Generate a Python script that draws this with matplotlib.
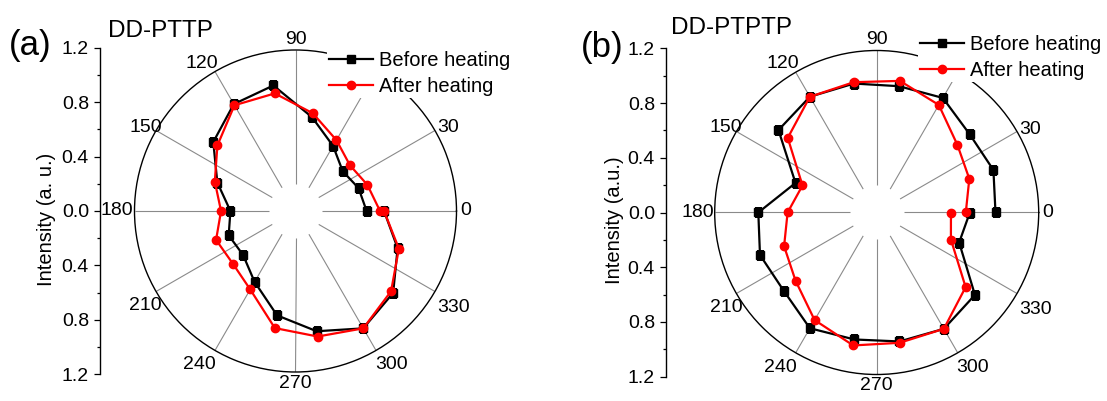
import numpy as np
import matplotlib
matplotlib.use("Agg")
import matplotlib.pyplot as plt
from matplotlib.ticker import MultipleLocator, FuncFormatter
from matplotlib.transforms import offset_copy

plt.rcParams['font.family'] = ['Liberation Sans', 'DejaVu Sans']

# Polarization angle (deg) and normalized intensity
angles_deg = [0, 20, 40, 60, 80, 100, 120, 140, 160, 180,
              200, 220, 240, 260, 280, 300, 320, 340, 360]

pttp_before = [0.53, 0.50, 0.46, 0.56, 0.71, 0.95, 0.92, 0.80, 0.62, 0.485,
               0.53, 0.51, 0.61, 0.79, 0.91, 1.01, 0.95, 0.81, 0.66]
pttp_after = [0.63, 0.57, 0.53, 0.61, 0.74, 0.89, 0.91, 0.76, 0.64, 0.555,
              0.63, 0.61, 0.675, 0.886, 0.95, 1.01, 0.93, 0.82, 0.66]

ptptp_before = [0.88, 0.92, 0.90, 0.98, 0.95, 0.97, 0.99, 0.95, 0.64, 0.877,
                0.92, 0.90, 0.99, 0.955, 0.97, 0.995, 0.95, 0.65, 0.69]
ptptp_after = [0.66, 0.73, 0.78, 0.92, 0.99, 0.98, 0.99, 0.86, 0.585, 0.66,
               0.73, 0.785, 0.92, 1.00, 0.98, 0.995, 0.86, 0.585, 0.55]

# angular labels (the 60-degree one sits under the legend)
theta_label_deg = [0, 30, 90, 120, 150, 180, 210, 240, 270, 300, 330]
theta_labels = ['0', '30', '90', '120', '150', '180',
                '210', '240', '270', '300', '330']

# anchor corner and pixel offset of each angular label around the rim
label_place = {
    0: ('left', 'center', 4, 0),
    30: ('left', 'baseline', 2, -2),
    90: ('center', 'baseline', 0, 6),
    120: ('right', 'baseline', 3, 4),
    150: ('right', 'baseline', 6, -1),
    180: ('right', 'center', -1, 0),
    210: ('right', 'top', 6, -5),
    240: ('right', 'top', 1, -6),
    270: ('center', 'top', 0, -3),
    300: ('left', 'top', -1, -6),
    330: ('left', 'top', 2, -7),
}

W, H = 1107, 401
fig = plt.figure(figsize=(W / 100, H / 100), dpi=100)


def fx(x):
    return x / W


def fy(y):
    return 1 - y / H


def panel(cx, cy, R, axis_x, letter, title, ylabel, ylabel_x, letter_pos,
          title_pos, legend_pos, before, after):
    # polar plot
    ax = fig.add_axes([fx(cx - R), fy(cy + R), 2 * R / W, 2 * R / H],
                      projection='polar')
    ax.set_ylim(0, 1.2)
    ax.set_yticks([])
    ax.grid(False)
    th = np.deg2rad(np.arange(0, 360, 30))
    ax.vlines(th, 0.2, 1.2, colors='#8a8a8a', lw=0.8, zorder=1)
    ax.set_xticks(th)
    ax.set_xticklabels([''] * len(th))
    ax.set_xticks(np.deg2rad(np.arange(15, 360, 30)), minor=True)
    ax.tick_params(axis='x', which='major', direction='in', length=4,
                   width=0.9)
    ax.tick_params(axis='x', which='minor', direction='in', length=3,
                   width=0.9)
    ax.spines['polar'].set_linewidth(1.0)
    for deg, lab in zip(theta_label_deg, theta_labels):
        ha, va, dx, dy = label_place[deg]
        tr = offset_copy(ax.transData, fig=fig, x=dx, y=dy, units='dots')
        ax.text(np.deg2rad(deg), 1.2, lab, transform=tr, ha=ha, va=va,
                fontsize=14, clip_on=False)

    t = np.deg2rad(angles_deg)
    ax.plot(t, before, color='black', lw=1.6, marker='s', ms=5.5,
            label='Before heating', zorder=3)
    ax.plot(t, after, color='#ff0000', lw=1.6, marker='o', ms=6,
            label='After heating', zorder=4)
    leg = ax.legend(loc='upper left', bbox_to_anchor=(fx(legend_pos[0]), fy(legend_pos[1])),
                    bbox_transform=fig.transFigure, fontsize=14.5, frameon=True,
                    handlelength=2.2, handletextpad=0.3, labelspacing=0.33,
                    borderpad=0.1, borderaxespad=0, fancybox=False)
    leg.get_frame().set_edgecolor('none')
    leg.get_frame().set_facecolor('white')
    leg.get_frame().set_alpha(1)
    leg.set_zorder(10)

    # linear intensity scale on the left
    la = fig.add_axes([fx(axis_x), fy(cy + R * 1.013), 0.002, 2 * R * 1.013 / H])
    la.patch.set_visible(False)
    for s in ('top', 'right', 'bottom'):
        la.spines[s].set_visible(False)
    la.spines['left'].set_linewidth(1.0)
    la.set_ylim(-1.2, 1.2)
    la.set_xticks([])
    la.yaxis.set_major_locator(MultipleLocator(0.4))
    la.yaxis.set_minor_locator(MultipleLocator(0.2))
    la.yaxis.set_major_formatter(FuncFormatter(lambda v, p: f"{abs(v):.1f}"))
    la.tick_params(axis='y', which='major', direction='out', length=4,
                   width=0.9, pad=4, labelsize=14)
    la.tick_params(axis='y', which='minor', direction='out', length=2.5,
                   width=0.9)

    fig.text(fx(letter_pos[0]), fy(letter_pos[1]), letter, fontsize=25,
             ha='left', va='center')
    fig.text(fx(title_pos[0]), fy(title_pos[1]), title, fontsize=17.5,
             ha='left', va='center')
    fig.text(fx(ylabel_x), fy(cy + 8), ylabel, fontsize=14.5, rotation=90,
             ha='center', va='center')


panel(295.5, 211, 161, 100, '(a)', 'DD-PTTP', 'Intensity (a. u.)', 46,
      (9, 45), (108, 31), (327, 49), pttp_before, pttp_after)
panel(876.7, 212.5, 162, 666, '(b)', 'DD-PTPTP', 'Intensity (a.u.)', 614,
      (581, 48), (671, 28), (918, 33), ptptp_before, ptptp_after)

fig.savefig('out.png', dpi=100)
